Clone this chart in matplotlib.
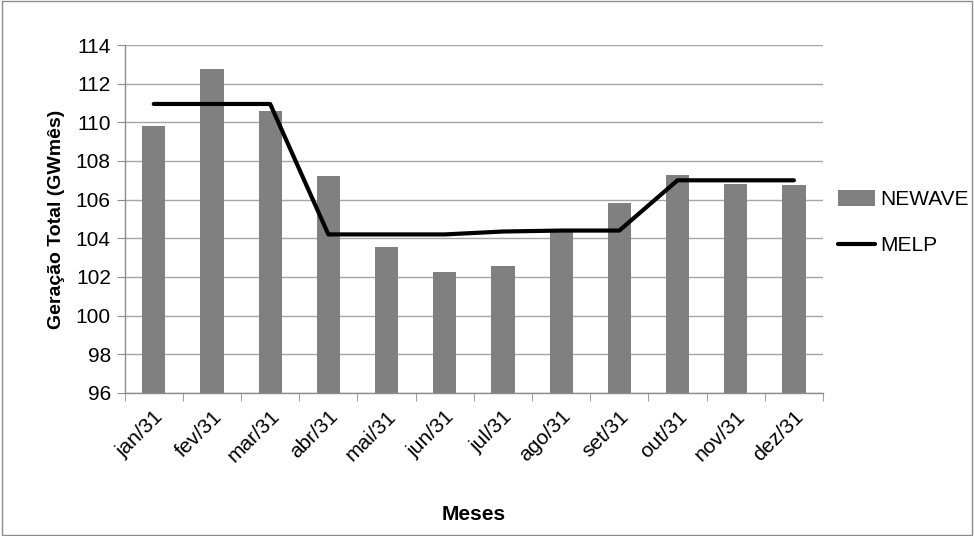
import matplotlib
matplotlib.use("Agg")
import matplotlib.pyplot as plt
import numpy as np

months = ["jan/31", "fev/31", "mar/31", "abr/31", "mai/31", "jun/31",
          "jul/31", "ago/31", "set/31", "out/31", "nov/31", "dez/31"]
newave = [109.8, 112.75, 110.6, 107.2, 103.55, 102.25, 102.55, 104.3, 105.8, 107.3, 106.8, 106.75]
melp = [110.95, 110.95, 110.95, 104.2, 104.2, 104.2, 104.35, 104.4, 104.4, 107.0, 107.0, 107.0]
yticks = list(range(96, 115, 2))

plt.rcParams['font.family'] = ['Liberation Sans', 'DejaVu Sans']

fig = plt.figure(figsize=(9.74, 5.36), dpi=100)
fig.patches.append(plt.Rectangle((0.002, 0.002), 0.996, 0.996, transform=fig.transFigure,
                                 fill=False, edgecolor='#8c8c8c', linewidth=1))
ax = fig.add_axes([0.128, 0.267, 0.717, 0.649])

x = np.arange(len(months))
bars = ax.bar(x, [v - 96 for v in newave], bottom=96, width=0.4, color='#808080', label='NEWAVE', zorder=2)
line, = ax.plot(x, melp, color='black', linewidth=3, label='MELP', zorder=3, solid_capstyle='round')

ax.set_xlim(-0.5, len(months) - 0.5)
ax.set_ylim(96, 114)
ax.set_yticks(yticks)
ax.set_yticklabels([str(t) for t in yticks], fontsize=15)
ax.yaxis.grid(True, color='#a6a6a6', linewidth=1, zorder=0)
ax.set_axisbelow(True)

ax.set_xticks(x)
ax.set_xticklabels(months, rotation=45, ha='right', rotation_mode='anchor', fontsize=15)
ax.tick_params(axis='x', length=0, pad=10)
ax.set_xticks(np.arange(-0.5, len(months), 1), minor=True)
ax.tick_params(axis='x', which='minor', length=6, color='#8c8c8c', direction='out')
ax.tick_params(axis='y', length=6, color='#8c8c8c', direction='out', pad=4)

for s in ['top', 'right']:
    ax.spines[s].set_visible(False)
for s in ['left', 'bottom']:
    ax.spines[s].set_color('#8c8c8c')
    ax.spines[s].set_linewidth(1)

ax.set_ylabel('Geração Total (GWmês)', fontsize=14, fontweight='bold', labelpad=8)
ax.set_xlabel('Meses', fontsize=15, fontweight='bold', labelpad=28)

leg = ax.legend([bars, line], ['NEWAVE', 'MELP'], loc='center left', bbox_to_anchor=(1.0, 0.49),
                frameon=False, fontsize=15, handlelength=1.8, handleheight=0.8,
                labelspacing=1.3, handletextpad=0.25, borderaxespad=0.3)

fig.savefig('out.png', dpi=100)
